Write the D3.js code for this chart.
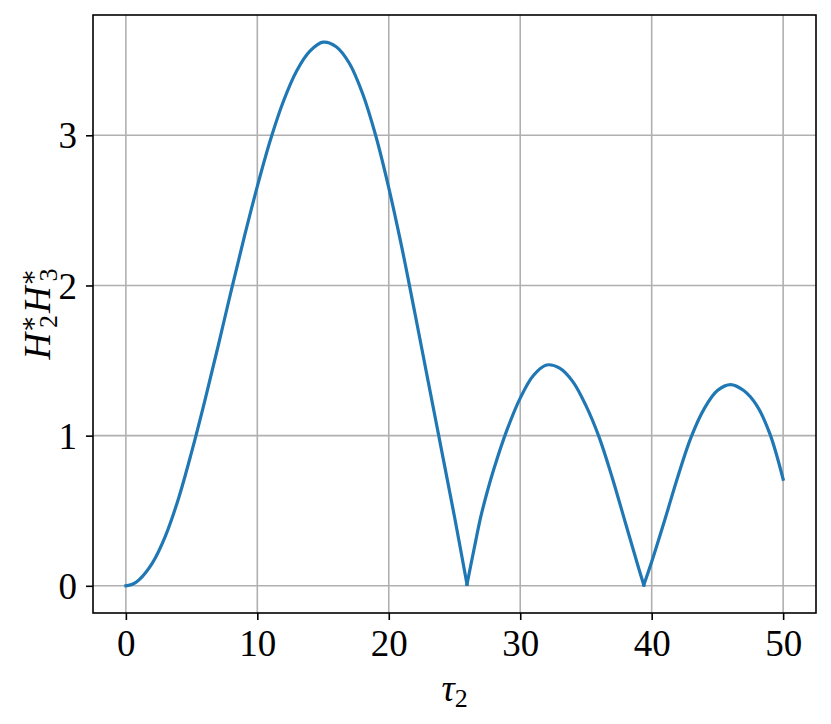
<!DOCTYPE html>
<html>
<head>
<meta charset="utf-8">
<script src="https://cdn.jsdelivr.net/npm/d3@7"></script>
<style>
  body { margin: 0; background: #fff; }
  text { font-family: "Liberation Serif", "DejaVu Serif", serif; }
</style>
</head>
<body>
<div id="grafico"></div>
<script>
// valores (tau2 -> H2* H3*)
const tau = [0, 0.5, 1, 2, 3, 4, 5, 6, 7, 8, 9, 10, 11, 12, 13, 14, 15, 16, 17, 18, 19, 20,
  21, 22, 23, 24, 25, 25.95, 26.5, 27, 27.5, 28, 29, 30, 31, 32, 33, 34, 35, 36, 37, 38, 39, 39.4,
  40, 41, 42, 43, 44, 45, 46, 47, 48, 49, 50];
const valores = [0, 0.01, 0.04, 0.15, 0.33, 0.58, 0.89, 1.23, 1.59, 1.96, 2.32, 2.66, 2.97, 3.23, 3.43, 3.56, 3.62, 3.59, 3.48, 3.28, 3.00, 2.65,
  2.25, 1.81, 1.36, 0.91, 0.46, 0.01, 0.25, 0.46, 0.63, 0.78, 1.04, 1.25, 1.40, 1.47, 1.45, 1.36, 1.20, 0.99, 0.72, 0.42, 0.12, 0.005,
  0.16, 0.44, 0.73, 0.99, 1.18, 1.30, 1.34, 1.30, 1.20, 1.01, 0.71];
const cuspides = [25.95, 39.4];
const ticksX = [0, 10, 20, 30, 40, 50];
const ticksY = [0, 1, 2, 3];

const largura = 831, altura = 724;
const margem = { top: 15, right: 15, bottom: 111, left: 93 };

const svg = d3.select("#grafico")
  .append("svg")
  .attr("width", largura)
  .attr("height", altura);

const dados = tau.map((t, i) => ({ t: t, v: valores[i] }));

// margens de 5% como no matplotlib
const xMin = d3.min(tau), xMax = d3.max(tau);
const yMin = d3.min(valores), yMax = d3.max(valores);
const dx = (xMax - xMin) * 0.05, dy = (yMax - yMin) * 0.05;

const x = d3.scaleLinear()
  .domain([xMin - dx, xMax + dx])
  .range([margem.left, largura - margem.right]);

const y = d3.scaleLinear()
  .domain([yMin - dy, yMax + dy])
  .range([altura - margem.bottom, margem.top]);

// grade
svg.append("g")
  .selectAll("line.gx")
  .data(ticksX)
  .enter()
  .append("line")
  .attr("x1", d => x(d)).attr("x2", d => x(d))
  .attr("y1", margem.top).attr("y2", altura - margem.bottom)
  .attr("stroke", "#b0b0b0")
  .attr("stroke-width", 1.6);

svg.append("g")
  .selectAll("line.gy")
  .data(ticksY)
  .enter()
  .append("line")
  .attr("y1", d => y(d)).attr("y2", d => y(d))
  .attr("x1", margem.left).attr("x2", largura - margem.right)
  .attr("stroke", "#b0b0b0")
  .attr("stroke-width", 1.6);

// curva, dividida nas cuspides
const limites = [xMin, ...cuspides, xMax];
const linha = d3.line()
  .x(d => x(d.t))
  .y(d => y(d.v))
  .curve(d3.curveCatmullRom);

for (let i = 0; i < limites.length - 1; i++) {
  const trecho = dados.filter(d => d.t >= limites[i] && d.t <= limites[i + 1]);
  svg.append("path")
    .datum(trecho)
    .attr("d", linha)
    .attr("fill", "none")
    .attr("stroke", "#1f77b4")
    .attr("stroke-width", 3.2)
    .attr("stroke-linejoin", "round")
    .attr("stroke-linecap", "square");
}

// eixos
const eixoX = svg.append("g")
  .attr("transform", `translate(0,${altura - margem.bottom})`)
  .call(d3.axisBottom(x).tickValues(ticksX).tickSize(7).tickPadding(10).tickFormat(d3.format("d")));

const eixoY = svg.append("g")
  .attr("transform", `translate(${margem.left},0)`)
  .call(d3.axisLeft(y).tickValues(ticksY).tickSize(7).tickPadding(9).tickFormat(d3.format("d")));

[eixoX, eixoY].forEach(g => {
  g.select(".domain").remove();
  g.selectAll("line").attr("stroke", "#000").attr("stroke-width", 1.6);
  g.selectAll("text")
    .attr("fill", "#000")
    .attr("font-size", "37px")
    .style("font-family", "'Liberation Serif', serif");
});
eixoY.selectAll("text").attr("dy", "0.34em");

// moldura
svg.append("rect")
  .attr("x", margem.left)
  .attr("y", margem.top)
  .attr("width", largura - margem.left - margem.right)
  .attr("height", altura - margem.top - margem.bottom)
  .attr("fill", "none")
  .attr("stroke", "#000")
  .attr("stroke-width", 1.6);

// rotulos
const rotuloX = svg.append("text")
  .attr("x", (margem.left + largura - margem.right) / 2)
  .attr("y", 701)
  .attr("text-anchor", "middle")
  .attr("font-size", "37px")
  .attr("fill", "#000");
rotuloX.append("tspan").attr("font-style", "italic").text("τ");
rotuloX.append("tspan").attr("font-size", "26px").attr("dy", "6").text("2");

const rotuloY = svg.append("text")
  .attr("transform", `translate(50,${(margem.top + altura - margem.bottom) / 2}) rotate(-90)`)
  .attr("text-anchor", "middle")
  .attr("font-size", "37px")
  .attr("fill", "#000");
rotuloY.append("tspan").attr("font-style", "italic").text("H");
rotuloY.append("tspan").attr("font-size", "26px").attr("dy", "-13").text("∗");
rotuloY.append("tspan").attr("font-size", "26px").attr("dx", "-13").attr("dy", "20").text("2");
rotuloY.append("tspan").attr("font-style", "italic").attr("dx", "2").attr("dy", "-7").text("H");
rotuloY.append("tspan").attr("font-size", "26px").attr("dy", "-13").text("∗");
rotuloY.append("tspan").attr("font-size", "26px").attr("dx", "-13").attr("dy", "20").text("3");
</script>
</body>
</html>
